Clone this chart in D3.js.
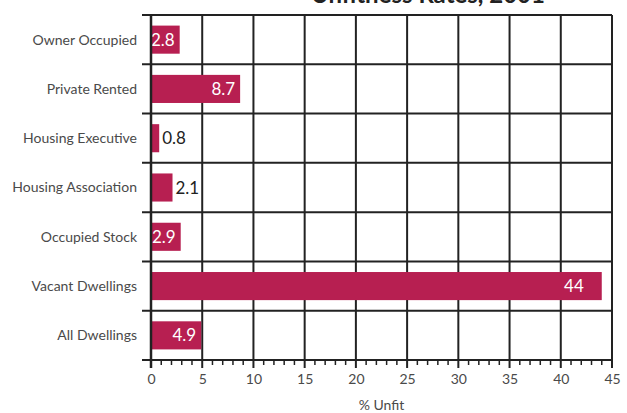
<!DOCTYPE html>
<html>
<head>
<meta charset="utf-8">
<script src="https://cdn.jsdelivr.net/npm/d3@7"></script>
<style>
  html, body { margin: 0; padding: 0; background: #fff; }
  svg { display: block; font-family: Lato, "Open Sans", sans-serif; }
</style>
</head>
<body>
<svg id="chart" width="627" height="413"></svg>
<script>
// Unfit dwellings by tenure
const categories = ["Owner Occupied", "Private Rented", "Housing Executive", "Housing Association", "Occupied Stock", "Vacant Dwellings", "All Dwellings"];
const unfitValues = [2.8, 8.7, 0.8, 2.1, 2.9, 44, 4.9];
const xTicks = [0, 5, 10, 15, 20, 25, 30, 35, 40, 45];
const titleText = "Unfitness Rates, 2001";
const xAxisTitle = "% Unfit";

const svg = d3.select("#chart");
const margin = { top: 15, right: 15, bottom: 53, left: 151 };
const W = 627, H = 413;
const innerW = W - margin.left - margin.right;
const innerH = H - margin.top - margin.bottom;

const g = svg.append("g").attr("transform", `translate(${margin.left},${margin.top})`);

const x = d3.scaleLinear().domain([0, 45]).range([0, innerW]);
const y = d3.scaleBand().domain(categories).range([0, innerH]).paddingInner(0.43).paddingOuter(0.215);

const gridColor = "#222";
const barColor = "#b71f51";

// band boundaries for horizontal grid lines
const bounds = d3.range(categories.length + 1).map(i => i * innerH / categories.length);

// horizontal grid lines (extend left as ticks)
g.selectAll("line.hgrid").data(bounds).join("line")
  .attr("class", "hgrid")
  .attr("x1", -9).attr("x2", innerW)
  .attr("y1", d => d).attr("y2", d => d)
  .attr("stroke", gridColor).attr("stroke-width", 2);

// vertical grid lines
g.selectAll("line.vgrid").data(xTicks).join("line")
  .attr("class", "vgrid")
  .attr("x1", d => x(d)).attr("x2", d => x(d))
  .attr("y1", 0).attr("y2", innerH)
  .attr("stroke", gridColor).attr("stroke-width", 2);

// bars
g.selectAll("rect.bar").data(categories).join("rect")
  .attr("class", "bar")
  .attr("x", x(0))
  .attr("y", d => y(d))
  .attr("width", (d, i) => x(unfitValues[i]) - x(0))
  .attr("height", y.bandwidth())
  .attr("fill", barColor);

// value labels: inside (white) when the bar is wide enough, outside otherwise
g.selectAll("text.val").data(categories).join("text")
  .attr("class", "val")
  .each(function (d, i) {
    const v = unfitValues[i];
    const w = x(v) - x(0);
    const inside = w > 25;
    d3.select(this)
      .attr("x", inside ? (v > 20 ? x(v) - 18 : x(v) - 5) : x(v) + 3)
      .attr("text-anchor", inside ? "end" : "start")
      .attr("fill", inside ? "#fff" : "#222");
  })
  .attr("y", d => y(d) + y.bandwidth() / 2)
  .attr("dy", "0.36em")
  .attr("font-size", 17)
  .text((d, i) => String(unfitValues[i]));

// category labels
g.selectAll("text.cat").data(categories).join("text")
  .attr("class", "cat")
  .attr("x", -14)
  .attr("y", d => y(d) + y.bandwidth() / 2)
  .attr("dy", "0.35em")
  .attr("text-anchor", "end")
  .attr("font-size", 14)
  .attr("fill", "#4a4a4a")
  .text(d => d);

// x axis with minor ticks
const axisG = g.append("g").attr("transform", `translate(0,${innerH})`);
axisG.selectAll("line.minor").data(d3.range(0, 46)).join("line")
  .attr("class", "minor")
  .attr("x1", d => x(d)).attr("x2", d => x(d))
  .attr("y1", 0).attr("y2", d => d % 5 === 0 ? 8 : 5)
  .attr("stroke", gridColor).attr("stroke-width", d => d % 5 === 0 ? 2 : 1.5);

const xAxis = d3.axisBottom(x).tickValues(xTicks).tickSize(0).tickPadding(14).tickFormat(d3.format("d"));
axisG.call(xAxis);
axisG.select(".domain").remove();
axisG.selectAll("text").attr("font-size", 14).attr("fill", "#4a4a4a").attr("font-family", "Lato, sans-serif");

// left axis line
g.append("line").attr("x1", 0).attr("x2", 0).attr("y1", 0).attr("y2", innerH + 8)
  .attr("stroke", gridColor).attr("stroke-width", 2.5);

// axis title
svg.append("text")
  .attr("x", margin.left + x(22.5))
  .attr("y", 410)
  .attr("text-anchor", "middle")
  .attr("font-size", 14)
  .attr("fill", "#4a4a4a")
  .text(xAxisTitle);

// chart title
svg.append("text")
  .attr("x", 428)
  .attr("y", 3)
  .attr("text-anchor", "middle")
  .attr("font-size", 24)
  .attr("font-weight", "bold")
  .attr("fill", "#222")
  .text(titleText);
</script>
</body>
</html>
